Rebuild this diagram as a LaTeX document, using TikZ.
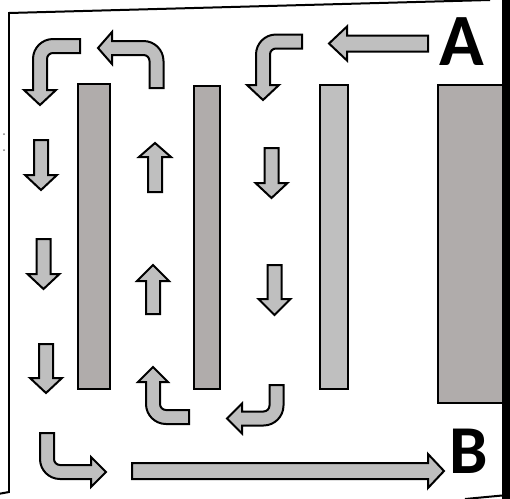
\documentclass[tikz,border=0pt]{standalone}
\usepackage{fontspec}
\setmainfont{Carlito}
\usepackage{xcolor}
\definecolor{shaftgray}{RGB}{191,191,191}
\definecolor{platedark}{RGB}{176,172,171}

\begin{document}
\begin{tikzpicture}[x=.02cm, y=-.02cm, line width=.04cm,
  blockarr/.style={draw, fill=shaftgray},
  plate/.style={draw, fill=platedark},
  letter/.style={inner sep=0, font=\bfseries\fontsize{#1}{#1}\selectfont}]
  \useasboundingbox (0,0) rectangle (510,498);
  \clip (0,0) rectangle (510,498);

  \draw (490,0) -- (9,13) -- (9,492) -- (-2,494);
  \draw (465,499) -- (502,495.5);
  \fill (502,-2) rectangle (512,500);
  \fill[gray] (4,134) circle (1) (4,150) circle (1);

  \draw[plate] (78,84) rectangle (110,389);
  \draw[plate] (194,86) rectangle (220,389);
  \draw[blockarr] (320,85) rectangle (348,389);
  \draw[plate] (438,85) rectangle (503,403);

  \node (la) [letter=42pt] at (461.5,42) {A};
  \node (lb) [letter=39pt] at (468.5,451.5) {B};

  \draw[blockarr] (428,35.5) -- ++(0,16) -- ++(-81,0) -- ++(0,9)
    -- ++(-18,-17) -- ++(18,-17) -- ++(0,9) -- cycle;
  \draw[blockarr] (302,34.5) -- (276,34.5) arc (270:180:20) -- (256,85)
    -- (247,85) -- (263,100) -- (279,85) -- (270,85) -- (270,54.5)
    arc (180:270:6) -- (302,48.5) -- cycle;
  \draw[blockarr] (149.5,88) -- (149.5,61) arc (0:-90:6) -- (112,55)
    -- (112,64) -- (98,48) -- (112,32) -- (112,41) -- (143.5,41)
    arc (-90:0:20) -- (163.5,88) -- cycle;
  \draw[blockarr] (80,39) -- (53,39) arc (270:180:20) -- (33,90)
    -- (24,90) -- (40,105) -- (56,90) -- (47,90) -- (47,59)
    arc (180:270:6) -- (80,53) -- cycle;

  \draw[blockarr] (34,140) -- ++(14,0) -- ++(0,35) -- ++(9,0)
    -- ++(-16,15) -- ++(-16,-15) -- ++(9,0) -- cycle;
  \draw[blockarr] (36.5,239) -- ++(14,0) -- ++(0,35) -- ++(9,0)
    -- ++(-16,15) -- ++(-16,-15) -- ++(9,0) -- cycle;
  \draw[blockarr] (39,344) -- ++(14,0) -- ++(0,34) -- ++(9,0)
    -- ++(-16,15) -- ++(-16,-15) -- ++(9,0) -- cycle;

  \draw[blockarr] (148,192) -- ++(14,0) -- ++(0,-35) -- ++(9,0)
    -- ++(-16,-14) -- ++(-16,14) -- ++(9,0) -- cycle;
  \draw[blockarr] (146,314) -- ++(14,0) -- ++(0,-33) -- ++(9,0)
    -- ++(-16,-16) -- ++(-16,16) -- ++(9,0) -- cycle;

  \draw[blockarr] (264.5,148) -- ++(14,0) -- ++(0,35) -- ++(9,0)
    -- ++(-16,15) -- ++(-16,-15) -- ++(9,0) -- cycle;
  \draw[blockarr] (267.5,265) -- ++(14,0) -- ++(0,34) -- ++(9,0)
    -- ++(-16,16) -- ++(-16,-16) -- ++(9,0) -- cycle;

  \draw[blockarr] (189,410) -- (166,410) arc (90:180:6) -- (160,382)
    -- (168,382) -- (153,367) -- (138,382) -- (146,382) -- (146,404)
    arc (180:90:20) -- (189,424) -- cycle;
  \draw[blockarr] (269.5,385) -- (269.5,405.5) arc (0:90:6) -- (242,411.5)
    -- (242,403.5) -- (227,418.5) -- (242,433.5) -- (242,425.5)
    -- (263.5,425.5) arc (90:0:20) -- (283.5,385) -- cycle;
  \draw[blockarr] (40,433) -- (54,433) -- (54,459) arc (180:90:6)
    -- (91,465) -- (91,457) -- (106,472) -- (91,487) -- (91,479)
    -- (60,479) arc (90:180:20) -- cycle;

  \draw[blockarr] (132,463) -- ++(296,0) -- ++(0,-9) -- ++(16,17)
    -- ++(-16,17) -- ++(0,-9) -- ++(-296,0) -- cycle;
\end{tikzpicture}
\end{document}
